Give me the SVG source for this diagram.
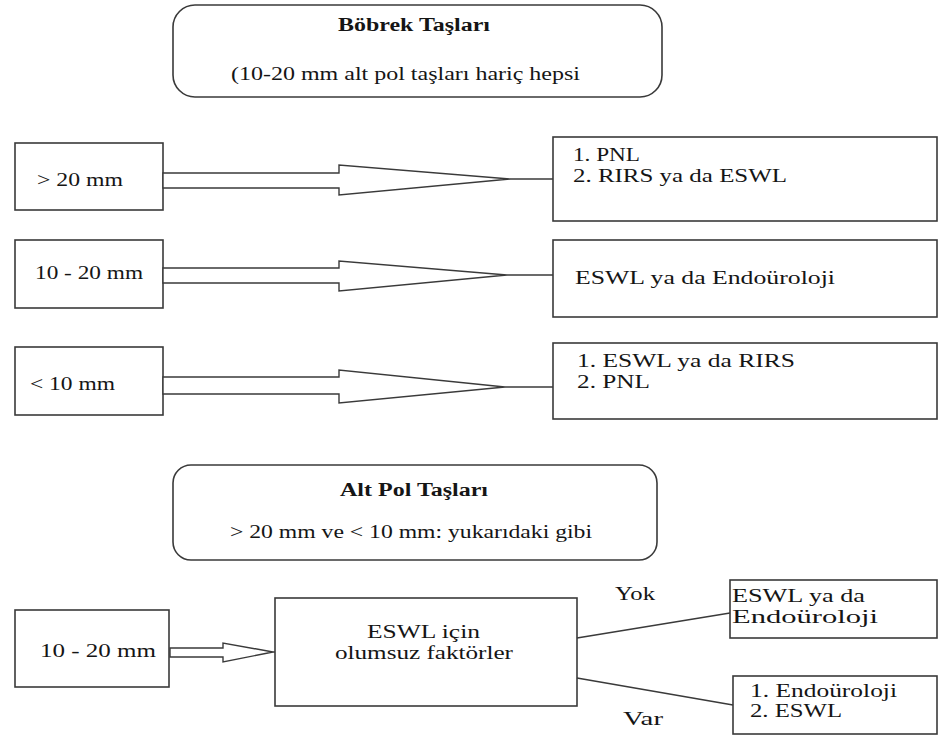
<svg xmlns="http://www.w3.org/2000/svg" width="938" height="737" viewBox="0 0 938 737">
  <style>
    .box { fill: #ffffff; stroke: #3a3a3a; stroke-width: 1.6; }
    .arrow { fill: #ffffff; stroke: #3a3a3a; stroke-width: 1.4; stroke-linejoin: miter; }
    .link { fill: none; stroke: #3a3a3a; stroke-width: 1.5; }
    .t { font-family: "Liberation Serif", "Times New Roman", serif; font-size: 19px; fill: #151515; }
    .b { font-weight: bold; font-size: 18px; }
  </style>
  <rect width="938" height="737" fill="#ffffff"/>

  <!-- header: kidney stones -->
  <g id="bobrek-taslari">
    <rect class="box" x="173" y="5" width="489" height="92" rx="22" ry="22"/>
    <text class="t b" x="338" y="31" textLength="152" lengthAdjust="spacingAndGlyphs">Böbrek Taşları</text>
    <text class="t" x="231" y="80" font-size="20" textLength="349" lengthAdjust="spacingAndGlyphs">(10-20 mm alt pol taşları hariç hepsi</text>
  </g>

  <!-- size classes -->
  <g id="buyuk-20">
    <rect class="box" x="15" y="143" width="148" height="67"/>
    <text class="t" x="37" y="186" textLength="86" lengthAdjust="spacingAndGlyphs">&gt; 20 mm</text>
  </g>
  <g id="orta-10-20">
    <rect class="box" x="15" y="240" width="148" height="68"/>
    <text class="t" x="35" y="279" textLength="108" lengthAdjust="spacingAndGlyphs">10 - 20 mm</text>
  </g>
  <g id="kucuk-10">
    <rect class="box" x="15" y="347" width="148" height="68"/>
    <text class="t" x="30" y="390" textLength="85" lengthAdjust="spacingAndGlyphs">&lt; 10 mm</text>
  </g>

  <!-- treatments -->
  <g id="tedavi-buyuk">
    <rect class="box" x="553" y="137" width="384" height="84"/>
    <text class="t" x="573" y="161" textLength="67" lengthAdjust="spacingAndGlyphs">1. PNL</text>
    <text class="t" x="573" y="182" textLength="214" lengthAdjust="spacingAndGlyphs">2. RIRS ya da ESWL</text>
  </g>
  <g id="tedavi-orta">
    <rect class="box" x="553" y="240" width="384" height="77"/>
    <text class="t" x="575" y="284" font-size="20" textLength="260" lengthAdjust="spacingAndGlyphs">ESWL ya da Endoüroloji</text>
  </g>
  <g id="tedavi-kucuk">
    <rect class="box" x="553" y="343" width="384" height="76"/>
    <text class="t" x="577" y="367" textLength="218" lengthAdjust="spacingAndGlyphs">1. ESWL ya da RIRS</text>
    <text class="t" x="577" y="388" textLength="73" lengthAdjust="spacingAndGlyphs">2. PNL</text>
  </g>

  <!-- lower pole header -->
  <g id="alt-pol-taslari">
    <rect class="box" x="173" y="465" width="484" height="95" rx="18" ry="18"/>
    <text class="t b" x="340" y="496" textLength="148" lengthAdjust="spacingAndGlyphs">Alt Pol Taşları</text>
    <text class="t" x="230" y="538" font-size="20" textLength="362" lengthAdjust="spacingAndGlyphs">&gt; 20 mm ve &lt; 10 mm: yukarıdaki gibi</text>
  </g>

  <!-- lower pole 10-20 mm -->
  <g id="alt-pol-10-20">
    <rect class="box" x="15" y="610" width="154" height="77"/>
    <text class="t" x="40" y="657" font-size="20" textLength="116" lengthAdjust="spacingAndGlyphs">10 - 20 mm</text>
  </g>
  <g id="olumsuz-faktorler">
    <rect class="box" x="275" y="598" width="302" height="108"/>
    <text class="t" x="367" y="638" font-size="20" textLength="113" lengthAdjust="spacingAndGlyphs">ESWL için</text>
    <text class="t" x="335" y="659" font-size="20" textLength="178" lengthAdjust="spacingAndGlyphs">olumsuz faktörler</text>
  </g>
  <g id="sonuc-yok">
    <rect class="box" x="730" y="580" width="207" height="58"/>
    <text class="t" x="732" y="602" font-size="20" textLength="133" lengthAdjust="spacingAndGlyphs">ESWL ya da</text>
    <text class="t" x="732" y="623" font-size="20" textLength="146" lengthAdjust="spacingAndGlyphs">Endoüroloji</text>
  </g>
  <g id="sonuc-var">
    <rect class="box" x="733" y="676" width="204" height="58"/>
    <text class="t" x="750" y="697" font-size="20" textLength="147" lengthAdjust="spacingAndGlyphs">1. Endoüroloji</text>
    <text class="t" x="750" y="717" font-size="20" textLength="92" lengthAdjust="spacingAndGlyphs">2. ESWL</text>
  </g>

  <!-- connectors -->
  <g id="connectors">
    <polygon class="arrow" points="163,173 339,173 339,165 510,179 339,195 339,188 163,188"/>
    <line class="link" x1="510" y1="179" x2="553" y2="179"/>
    <polygon class="arrow" points="163,268 339,268 339,261 507,275 339,291 339,283 163,283"/>
    <line class="link" x1="507" y1="275" x2="553" y2="275"/>
    <polygon class="arrow" points="163,377 339,377 339,370 505,387 339,403 339,394 163,394"/>
    <line class="link" x1="505" y1="387" x2="553" y2="387"/>
    <polygon class="arrow" points="170,648 223,648 223,643 273,652 223,662 223,657 170,657"/>
    <line class="link" x1="273" y1="652" x2="275" y2="652"/>
    <line class="link" x1="577" y1="638" x2="730" y2="613"/>
    <line class="link" x1="577" y1="678" x2="733" y2="705"/>
    <text class="t" x="615" y="600" font-size="20" textLength="40" lengthAdjust="spacingAndGlyphs">Yok</text>
    <text class="t" x="623" y="725" font-size="20" textLength="40" lengthAdjust="spacingAndGlyphs">Var</text>
  </g>
</svg>
